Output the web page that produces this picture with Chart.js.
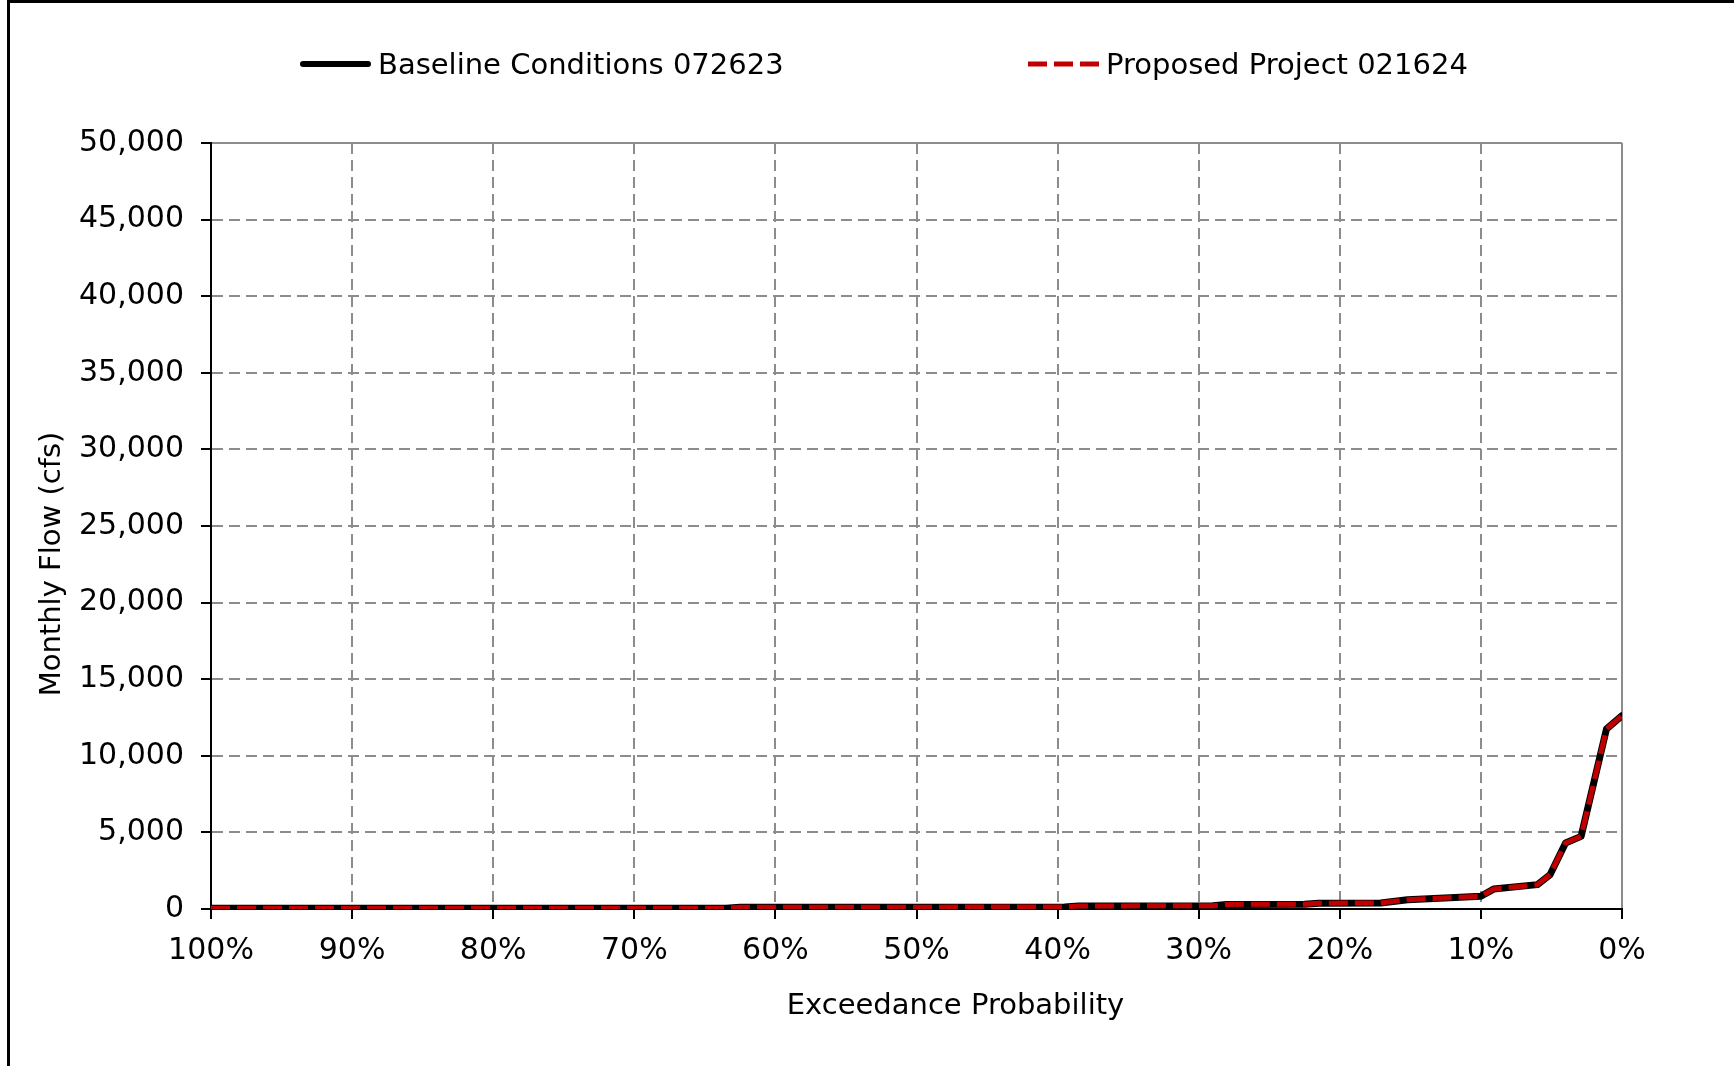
<!DOCTYPE html>
<html><head><meta charset="utf-8">
<script src="https://cdn.jsdelivr.net/npm/chart.js@4.4.1/dist/chart.umd.min.js"></script>
<style>
html,body{margin:0;padding:0;background:#fff;}
#wrap{position:relative;width:1734px;height:1066px;overflow:hidden;background:#fff;}
#frame{position:absolute;left:7px;top:0;right:-10px;bottom:-10px;border-top:3px solid #000;border-left:3px solid #000;pointer-events:none;}
canvas{position:absolute;left:0;top:0;}
#legend{position:absolute;top:0;left:0;width:1734px;height:100px;font-family:'DejaVu Sans',Verdana,sans-serif;font-size:29px;color:#000;}
.item{position:absolute;top:47px;height:34px;display:flex;align-items:center;white-space:nowrap;}
.item svg{display:block;margin-right:7px;}
</style></head>
<body><div id="wrap"><canvas id="c" width="1734" height="1066"></canvas><div id="legend"></div><div id="frame"></div></div>
<script>
// ---- data ----
const exceedance   = [100, 63.5, 62.5, 39.5, 38.5, 29, 28, 22.5, 21.5, 17.1, 15.2, 12.2, 10.0, 9.1, 6.0, 5.1, 4.0, 2.9, 1.1, 0];
const baselineFlow = [50, 50, 110, 130, 200, 210, 300, 310, 380, 390, 610, 740, 830, 1300, 1590, 2240, 4310, 4740, 11750, 12620];
const proposedFlow = [50, 50, 110, 130, 200, 210, 300, 310, 380, 390, 610, 740, 830, 1300, 1590, 2240, 4310, 4740, 11750, 12620];
const seriesNames  = ['Baseline Conditions 072623', 'Proposed Project 021624'];
const xTickValues  = [100, 90, 80, 70, 60, 50, 40, 30, 20, 10, 0];
const yTickValues  = [0, 5000, 10000, 15000, 20000, 25000, 30000, 35000, 40000, 45000, 50000];
const xAxisTitle   = 'Exceedance Probability';
const yAxisTitle   = 'Monthly Flow (cfs)';

Chart.defaults.font.family = "'DejaVu Sans', Verdana, sans-serif";
Chart.defaults.font.size = 30;
Chart.defaults.color = '#000';

const GRID = '#8c8c8c';
const DASH = [11, 6];

const axisTitles = {
  id: 'axisTitles',
  afterDraw(chart) {
    const {ctx, chartArea: a} = chart;
    ctx.save();
    ctx.font = "29px 'DejaVu Sans', Verdana, sans-serif";
    ctx.fillStyle = '#000';
    ctx.textAlign = 'center';
    ctx.textBaseline = 'middle';
    ctx.fillText(xAxisTitle, (a.left + a.right) / 2 + 39, a.bottom + 97);
    ctx.translate(52, (a.top + a.bottom) / 2 + 38);
    ctx.rotate(-Math.PI / 2);
    ctx.fillText(yAxisTitle, 0, 0);
    ctx.restore();
  }
};

const chart = new Chart(document.getElementById('c'), {
  type: 'line',
  data: {
    datasets: [
      {
        label: seriesNames[0],
        data: exceedance.map((x, i) => ({x, y: baselineFlow[i]})),
        borderColor: '#000000', borderWidth: 7, pointRadius: 0, tension: 0,
        borderCapStyle: 'round', borderJoinStyle: 'round', fill: false, order: 2
      },
      {
        label: seriesNames[1],
        data: exceedance.map((x, i) => ({x, y: proposedFlow[i]})),
        borderColor: '#C00000', borderWidth: 5, borderDash: [19, 7], pointRadius: 0, tension: 0,
        borderCapStyle: 'butt', borderJoinStyle: 'round', fill: false, order: 1
      }
    ]
  },
  options: {
    responsive: false, animation: false, devicePixelRatio: 1,
    layout: {padding: {top: 143, left: 0, right: 112, bottom: 0}},
    plugins: {legend: {display: false}, tooltip: {enabled: false}},
    scales: {
      x: {
        type: 'linear', reverse: true, min: 0, max: 100,
        afterBuildTicks: s => { s.ticks = xTickValues.map(v => ({value: v})); },
        ticks: {callback: v => v + '%', padding: 14, maxRotation: 0, autoSkip: false},
        grid: {color: GRID, lineWidth: 2, tickLength: 10, tickColor: '#000', tickWidth: 2},
        border: {color: '#000', width: 2, dash: c => (c.tick && c.tick.value === 0) ? [] : DASH},
        afterFit: s => { s.height = 157; }
      },
      y: {
        type: 'linear', min: 0, max: 50000,
        afterBuildTicks: s => { s.ticks = yTickValues.map(v => ({value: v})); },
        ticks: {callback: v => v.toLocaleString('en-US'), padding: 17, autoSkip: false},
        grid: {color: GRID, lineWidth: 2, tickLength: 10, tickColor: '#000', tickWidth: 2},
        border: {color: '#000', width: 2, dash: c => (c.tick && c.tick.value === 50000) ? [] : DASH},
        afterFit: s => { s.width = 211; }
      }
    }
  },
  plugins: [axisTitles]
});

// HTML legend built from Chart.js legend items, in dataset order
const legendEl = document.getElementById('legend');
const items = Chart.defaults.plugins.legend.labels.generateLabels(chart)
  .sort((a, b) => a.datasetIndex - b.datasetIndex);
const lefts = [300, 1028];
items.forEach((it, i) => {
  const d = document.createElement('div');
  d.className = 'item';
  d.style.left = lefts[i] + 'px';
  const w = 71, h = 10;
  const ds = chart.data.datasets[it.datasetIndex];
  const lw = i === 0 ? 6 : 5;
  const cap = ds.borderCapStyle === 'round' ? 'round' : 'butt';
  const dash = (ds.borderDash || []).join(',');
  const inset = cap === 'round' ? lw / 2 : 0;
  d.innerHTML = `<svg width="${w}" height="${h}"><line x1="${inset}" y1="${h/2}" x2="${w-inset}" y2="${h/2}" stroke="${ds.borderColor}" stroke-width="${lw}" stroke-linecap="${cap}" ${dash ? `stroke-dasharray="${dash}"` : ''}/></svg><span>${it.text}</span>`;
  legendEl.appendChild(d);
});
</script>
</body></html>
